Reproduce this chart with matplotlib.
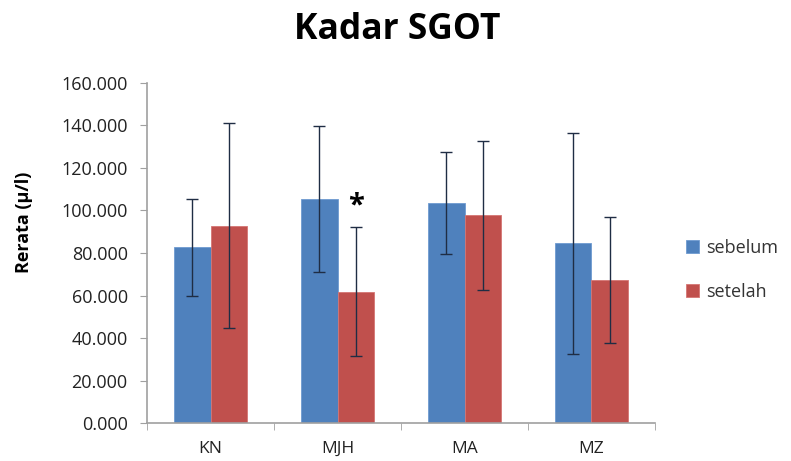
import numpy as np
import matplotlib
matplotlib.use("Agg")
import matplotlib.pyplot as plt
from matplotlib.ticker import FuncFormatter, FixedLocator

groups = ["KN", "MJH", "MA", "MZ"]
sebelum = [82.7, 105.5, 103.6, 84.5]
sebelum_err = [22.9, 34.4, 23.9, 51.8]
setelah = [92.9, 61.8, 97.7, 67.2]
setelah_err = [48.1, 30.5, 35.0, 29.6]

plt.rcParams['font.family'] = ['Open Sans', 'DejaVu Sans']

fig = plt.figure(figsize=(7.91, 4.61), dpi=100)
ax = fig.add_axes([0.186, 0.0824, 0.642, 0.7376])

x = np.arange(len(groups))
w = 0.2875
blue = "#4f81bd"
red = "#c0504d"
errc = "#1f2d44"

ax.bar(x - w/2, sebelum, w, color=blue, edgecolor="#6f9ad0", linewidth=0.6, label="sebelum")
ax.bar(x + w/2, setelah, w, color=red, edgecolor="#d57573", linewidth=0.6, label="setelah")
ax.errorbar(x - w/2, sebelum, yerr=sebelum_err, fmt="none", ecolor=errc, elinewidth=1, capsize=4, capthick=1)
ax.errorbar(x + w/2, setelah, yerr=setelah_err, fmt="none", ecolor=errc, elinewidth=1, capsize=4, capthick=1)

# significance mark
ax.text(1 + w/2, setelah[1] + setelah_err[1] + 10, "*", ha="center", va="center", fontsize=21, fontweight="bold")

ax.set_xlim(-0.5, 3.5)
ax.set_ylim(0, 160)
ax.set_yticks(np.arange(0, 161, 20))
ax.yaxis.set_major_formatter(FuncFormatter(lambda v, p: "{:.3f}".format(v)))
ax.set_xticks(x)
ax.set_xticklabels(groups)
ax.xaxis.set_minor_locator(FixedLocator(np.arange(-0.5, 3.6, 1)))
ax.tick_params(axis="x", which="major", length=0, labelsize=12.5, colors="#222222", pad=13)
ax.tick_params(axis="x", which="minor", length=5, color="#a0a0a0")
ax.tick_params(axis="y", length=5, color="#a0a0a0", labelsize=13, labelcolor="#222222", pad=9)

for s in ["top", "right"]:
    ax.spines[s].set_visible(False)
for s in ["left", "bottom"]:
    ax.spines[s].set_color("#a0a0a0")
    ax.spines[s].set_linewidth(1.2)

ax.set_ylabel("Rerata (µ/l)", fontsize=13, fontweight="bold")
ax.yaxis.set_label_coords(-0.225, 0.59)
fig.text(0.502, 0.935, "Kadar SGOT", ha="center", va="center", fontsize=25.5, fontweight="bold")

ax.legend(loc="center left", bbox_to_anchor=(1.03, 0.45), frameon=False, fontsize=13,
          handlelength=0.7, handleheight=0.7, handletextpad=0.4, labelspacing=1.45,
          labelcolor="#333333")

fig.savefig("out.png", dpi=100)
